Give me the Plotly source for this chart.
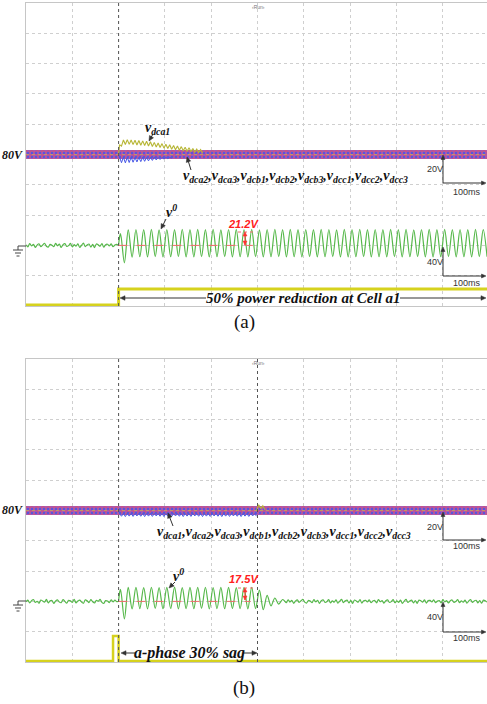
import math
import numpy as np
import plotly.graph_objects as go

W, H = 487, 704
SERIF = "Liberation Serif, Times New Roman, serif"
SANS = "Liberation Sans, Arial, sans-serif"

# ---------------- data (read from the scope captures) ----------------
T60 = 1000.0 / 60.0      # ms, output voltage period
T120 = 1000.0 / 120.0    # ms, dc-link ripple period

# output voltage v0 [V] -- panel (a)
a_noise_pre = [0.8, -1.9, 2.4, -0.7, 1.5, -2.6, 0.4, 2.2, -1.5, 0.6, 2.8, -1.1, -2.3, 1.3, 0.3, -1.8,
               2.6, -0.5, 1.6, -2.8, 1.1, 2.3, -1.3, -0.3, 2.7, -2.0, 0.9, -1.0, 2.0, -2.7, 0.2, 2.9,
               -1.6, 0.6, 1.8, -2.2, 1.4, -2.9, 1.9, 0.7, -1.1, 2.4, -2.4, 1.0, 1.5, -0.7, 2.2, -1.8,
               0.5, 1.3, 0.4]
a_v0_peaks = [15.5, 20.5, 21.0, 20.8, 21.2, 20.6, 21.0, 20.9, 21.3, 20.7, 21.1, 20.8, 21.2, 20.5, 21.0, 21.2,
              20.8, 21.1, 20.6, 21.0, 21.3, 20.9, 21.2, 20.7, 21.0, 20.8, 21.2, 21.0, 20.6, 21.1, 20.9, 21.3,
              20.8, 21.0, 20.7, 21.2, 20.9, 21.1, 20.6, 21.0, 21.2, 20.8, 21.1, 20.9, 21.0, 20.7, 21.2, 20.9]
a_v0_troughs = [-23.0, -15.5, -15.0, -15.3, -14.8, -15.2, -15.0, -14.7, -15.3, -15.1, -14.9, -15.2, -15.0, -14.8,
                -15.3, -15.0, -15.1, -14.9, -15.2, -15.0, -14.8, -15.3, -15.0, -15.1, -14.9, -15.2, -15.0,
                -14.8, -15.2, -15.1, -15.0, -14.9, -15.3, -15.0, -15.1, -14.8, -15.2, -15.0, -14.9, -15.1,
                -15.2, -15.0, -14.8, -15.1, -15.0, -15.2, -14.9, -15.0]

# dc-link voltages [V] -- panel (a)
band_t = [-200, 800]
a_band_top = [83.0, 83.0]
a_band_bot = [77.0, 77.0]
a_dca1_peaks = [86.5, 89.6, 89.8, 89.6, 89.4, 89.2, 89.0, 88.7, 88.4, 88.0, 87.6, 87.2, 86.8, 86.4, 86.0,
                85.6, 85.2, 84.8, 84.4, 84.0, 83.6, 83.2]
a_dca1_troughs = [85.5, 86.6, 86.7, 86.5, 86.3, 86.1, 85.9, 85.6, 85.3, 84.9, 84.6, 84.2, 83.9, 83.5, 83.2,
                  82.8, 82.5, 82.2, 81.9, 81.6, 81.3, 81.0]
a_blue_troughs = [74.6, 74.5, 74.7, 74.9, 75.1, 75.3, 75.5, 75.8, 76.1, 76.4, 76.7, 77.0, 77.3, 77.6]
a_blue_peaks = [78.0, 78.2, 78.1, 78.2, 78.0, 78.1, 78.2, 78.0, 78.1, 78.2, 78.0, 78.1, 78.2, 78.1]

# auxiliary (yellow) channel, in divisions -- panel (a)
a_yel_t = [-200, 0, 0, 800]
a_yel_v = [0.03, 0.03, 0.56, 0.56]

# output voltage v0 [V] -- panel (b)
b_noise_pre = [-0.6, 1.7, -2.1, 0.9, 2.5, -1.4, 0.2, -2.4, 1.8, 0.5, -1.0, 2.7, -1.9, 0.8, 1.2, -2.6,
               0.6, 2.1, -0.9, -1.7, 2.4, 0.1, -2.2, 1.5, 0.7, -1.3, 2.8, -2.0, 0.4, 1.6, -0.8, -2.5,
               2.0, 0.9, -1.6, 2.3, -0.4, -2.1, 1.4, 0.3, 2.6, -1.2, -2.7, 1.1, 0.6, -1.5, 2.2, -0.7,
               1.7, -0.2, 0.5]
b_v0_peaks = [16.0, 18.4, 18.6, 18.2, 18.7, 18.3, 18.5, 18.8, 18.2, 18.6, 18.4, 18.7, 18.3, 18.5, 18.6,
              18.2, 18.5, 18.4]
b_v0_troughs = [-23.0, -10.0, -9.5, -9.8, -9.3, -9.7, -9.4, -9.9, -9.5, -9.6, -9.2, -9.8, -9.5, -9.7, -9.4,
                -9.6, -9.8, -9.5]
b_v0_decay = [15.0, -11.0, 8.0, -6.0, 4.5, -3.5, 2.5]
b_noise_post = [0.7, -1.8, 2.2, -0.9, 1.4, -2.5, 0.5, 2.0, -1.3, 0.8, 2.6, -1.0, -2.2, 1.2, 0.4, -1.7,
                2.4, -0.6, 1.5, -2.6, 1.0, 2.1, -1.2, -0.4, 2.5, -1.9, 0.8, -1.1, 1.9, -2.4, 0.3, 2.7,
                -1.5, 0.7, 1.7, -2.1, 1.3, -2.7, 1.8, 0.6, -1.0, 2.3, -2.3, 0.9, 1.4, -0.8, 2.1, -1.7,
                0.6, 1.2, -2.0, 2.5, -0.5, 1.1, -2.2, 0.9, 2.0, -1.4, -0.3, 2.4, -1.8, 0.7, -1.2, 1.8,
                -2.5, 0.4, 2.6, -1.4, 0.5, 1.6, -2.0, 1.2, -2.6, 1.7, 0.8, -0.9, 2.2, -2.2, 1.0, 1.3,
                -0.7, 2.0, -1.6, 0.4, 1.1, -1.9, 2.3, -0.6, 1.0, -2.1, 0.8, 1.9, -1.3, -0.2, 2.3, -1.7,
                0.6, -1.0, 1.7, -2.3, 0.5, 2.4, -1.3, 0.6, 1.5, -1.9, 1.1, -2.4, 1.6, 0.7, -0.8, 2.1]

# dc-link voltages [V] -- panel (b)
b_band_top = [83.0, 83.0]
b_band_bot = [77.0, 77.0]
b_blue_troughs = [76.2, 76.0, 76.3, 76.1, 76.4, 76.2, 76.0, 76.3, 76.1, 76.4, 76.2, 76.0, 76.3, 76.1,
                  76.4, 76.2, 76.0, 76.3, 76.1, 76.4, 76.2, 76.0, 76.3, 76.1, 76.4, 76.2, 76.0, 76.3,
                  76.1, 76.4, 76.2, 76.0, 76.3, 76.1, 76.4, 76.2]
b_olive_bump = [80.0, 83.8, 81.5, 83.2, 80.5]

# auxiliary (yellow) channel, in divisions -- panel (b)
b_yel_t = [-200, -12, -12, 0, 0, 800]
b_yel_v = [0.03, 0.03, 0.86, 0.86, 0.03, 0.03]

# channel scales
DC_REF, DC_PER_DIV, DC_DIV = 80.0, 20.0, 5.0
V0_PER_DIV, V0_DIV = 40.0, 2.0


def dc_div(v):
    return [DC_DIV + (x - DC_REF) / DC_PER_DIV for x in v]


def v0_div(v):
    return [V0_DIV + x / V0_PER_DIV for x in v]


def zigzag(t0, half, first, second, start=None):
    """alternate first/second extrema every half period, starting a quarter period after t0"""
    xs, ys = [], []
    if start is not None:
        xs.append(t0)
        ys.append(start)
    k = 0
    for p, q in zip(first, second):
        xs.append(t0 + half / 2 + 2 * k * half)
        ys.append(p)
        xs.append(t0 + half / 2 + (2 * k + 1) * half)
        ys.append(q)
        k += 1
    return xs, ys


def noise(t0, t1, vals):
    return list(np.linspace(t0, t1, len(vals))), list(vals)


GREEN = "#56b84a"
YELLOW = "#d6d21e"
OLIVE = "#b7b636"
BLUE = "#4656e6"

fig = go.Figure()


def add_band(xa, ya, top, bot):
    fig.add_trace(go.Scatter(x=band_t, y=dc_div(bot), mode="lines", line=dict(width=0),
                             xaxis=xa, yaxis=ya, hoverinfo="skip", showlegend=False))
    fig.add_trace(go.Scatter(x=band_t, y=dc_div(top), mode="lines", line=dict(width=0),
                             fill="tonexty", fillcolor="#a95ab6",
                             fillpattern=dict(shape="x", fgcolor="#ee4c4c", bgcolor="#a95ab6",
                                              size=4, solidity=0.5),
                             xaxis=xa, yaxis=ya, hoverinfo="skip", showlegend=False))
    fig.add_trace(go.Scatter(x=band_t, y=dc_div(bot), mode="lines", line=dict(width=0),
                             xaxis=xa, yaxis=ya, hoverinfo="skip", showlegend=False))
    fig.add_trace(go.Scatter(x=band_t, y=dc_div(top), mode="lines", line=dict(width=0),
                             fill="tonexty", fillcolor="rgba(0,0,0,0)",
                             fillpattern=dict(shape=".", fgcolor=BLUE, bgcolor="rgba(0,0,0,0)",
                                              size=4, solidity=0.3, fgopacity=0.85),
                             xaxis=xa, yaxis=ya, hoverinfo="skip", showlegend=False))
    fig.add_trace(go.Scatter(x=band_t, y=dc_div([DC_REF, DC_REF]), mode="lines",
                             line=dict(width=1, color="rgba(200,195,70,0.6)", dash="dot"),
                             xaxis=xa, yaxis=ya, hoverinfo="skip", showlegend=False))


# ---- panel (a)
add_band("x", "y", a_band_top, a_band_bot)
bx, by = zigzag(0, T120 / 2, a_blue_peaks, a_blue_troughs, start=80.0)
fig.add_trace(go.Scatter(x=bx, y=dc_div(by), mode="lines", line=dict(color=BLUE, width=1),
                         xaxis="x", yaxis="y", showlegend=False, hoverinfo="skip"))
ox, oy = zigzag(0, T120 / 2, a_dca1_peaks, a_dca1_troughs, start=80.0)
fig.add_trace(go.Scatter(x=ox, y=dc_div(oy), mode="lines", line=dict(color=OLIVE, width=1.1),
                         xaxis="x", yaxis="y", showlegend=False, hoverinfo="skip"))
nx, ny = noise(-200, 0, a_noise_pre)
sx, sy = zigzag(0, T60 / 2, a_v0_peaks, a_v0_troughs, start=1.0)
fig.add_trace(go.Scatter(x=nx + sx, y=v0_div(ny + sy), mode="lines",
                         line=dict(color=GREEN, width=1.2, shape="spline", smoothing=0.9),
                         xaxis="x", yaxis="y", showlegend=False, hoverinfo="skip"))
fig.add_trace(go.Scatter(x=a_yel_t, y=a_yel_v, mode="lines", line=dict(color=YELLOW, width=3),
                         xaxis="x", yaxis="y", showlegend=False, hoverinfo="skip"))

# ---- panel (b)
add_band("x2", "y2", b_band_top, b_band_bot)
bx, by = zigzag(0, T120 / 2, [78.0] * len(b_blue_troughs), b_blue_troughs, start=80.0)
fig.add_trace(go.Scatter(x=bx, y=dc_div(by), mode="lines", line=dict(color=BLUE, width=1),
                         xaxis="x2", yaxis="y2", showlegend=False, hoverinfo="skip"))
fig.add_trace(go.Scatter(x=list(np.linspace(298, 316, len(b_olive_bump))), y=dc_div(b_olive_bump),
                         mode="lines", line=dict(color=OLIVE, width=1.1),
                         xaxis="x2", yaxis="y2", showlegend=False, hoverinfo="skip"))
nx, ny = noise(-200, 0, b_noise_pre)
sx, sy = zigzag(0, T60 / 2, b_v0_peaks, b_v0_troughs, start=1.0)
t_end = sx[-1]
dx = [t_end + (i + 1) * T60 / 2 for i in range(len(b_v0_decay))]
px_, py_ = noise(dx[-1] + 4, 800, b_noise_post)
fig.add_trace(go.Scatter(x=nx + sx + dx + px_, y=v0_div(ny + sy + b_v0_decay + py_), mode="lines",
                         line=dict(color=GREEN, width=1.2, shape="spline", smoothing=0.9),
                         xaxis="x2", yaxis="y2", showlegend=False, hoverinfo="skip"))
fig.add_trace(go.Scatter(x=b_yel_t, y=b_yel_v, mode="lines", line=dict(color=YELLOW, width=2.5),
                         xaxis="x2", yaxis="y2", showlegend=False, hoverinfo="skip"))

# ---------------- layout ----------------
XL, XR = 26.0, 487.0
DIVPX = 46.3
x_range = [-200, -200 + (XR - XL) / DIVPX * 100]


def ydom(top, bot):
    return [1 - bot / H, 1 - top / H]


axcommon = dict(showgrid=True, gridcolor="#cfcfcf", griddash="dot", gridwidth=1,
                showticklabels=False, ticks="", zeroline=False, showline=True,
                linecolor="#c6c6c6", linewidth=1, fixedrange=True)

fig.update_layout(
    width=W, height=H, margin=dict(l=0, r=0, t=0, b=0, pad=0),
    paper_bgcolor="white", plot_bgcolor="white", showlegend=False,
    xaxis=dict(domain=[XL / W, 1], range=x_range, dtick=100, tick0=0, anchor="y", mirror=True, **axcommon),
    yaxis=dict(domain=ydom(3, 306), range=[0, 10], dtick=1, anchor="x", mirror=False, **axcommon),
    xaxis2=dict(domain=[XL / W, 1], range=x_range, dtick=100, tick0=0, anchor="y2", mirror=True, **axcommon),
    yaxis2=dict(domain=ydom(359, 662), range=[0, 10], dtick=1, anchor="x2", mirror=False, **axcommon),
)

shapes = []
# trigger / event markers
for xr, yr in (("x", "y"), ("x2", "y2")):
    shapes.append(dict(type="line", xref=xr, yref=yr, x0=0, x1=0, y0=0, y1=10,
                       line=dict(color="#555", width=1, dash="dot")))
shapes.append(dict(type="line", xref="x2", yref="y2", x0=300, x1=300, y0=0, y1=10,
                   line=dict(color="#555", width=1, dash="dot")))
# red reference (ground) dashed lines
shapes.append(dict(type="line", xref="x", yref="y", x0=0, x1=290, y0=2, y1=2,
                   line=dict(color="#f06a6a", width=1, dash="dash")))
shapes.append(dict(type="line", xref="x2", yref="y2", x0=0, x1=285, y0=2, y1=2,
                   line=dict(color="#f06a6a", width=1, dash="dash")))


def PX(x):
    return x / W


def PY(y):
    return 1 - y / H


def pline(x0, y0, x1, y1, color="#444", width=1, dash="solid"):
    return dict(type="line", xref="paper", yref="paper", x0=PX(x0), x1=PX(x1),
                y0=PY(y0), y1=PY(y1), line=dict(color=color, width=width, dash=dash))


def head(hx, hy, ux, uy, color, length=5.0, half=2.3):
    bx_, by_ = hx - ux * length, hy - uy * length
    nx_, ny_ = -uy, ux
    p1 = (bx_ + nx_ * half, by_ + ny_ * half)
    p2 = (bx_ - nx_ * half, by_ - ny_ * half)
    path = "M %f,%f L %f,%f L %f,%f Z" % (PX(hx), PY(hy), PX(p1[0]), PY(p1[1]), PX(p2[0]), PY(p2[1]))
    return dict(type="path", xref="paper", yref="paper", path=path,
                fillcolor=color, line=dict(color=color, width=0.5))


def arrow(hx, hy, tx, ty, color="#333", both=False, length=5.0, half=2.3):
    d = math.hypot(hx - tx, hy - ty)
    ux, uy = (hx - tx) / d, (hy - ty) / d
    shapes.append(pline(tx, ty, hx - ux * 2, hy - uy * 2, color=color))
    shapes.append(head(hx, hy, ux, uy, color, length, half))
    if both:
        shapes.append(head(tx, ty, -ux, -uy, color, length, half))


# ground symbols
for gy in (246, 601):
    shapes.extend([pline(18, gy, 26, gy), pline(18, gy, 18, gy + 4),
                   pline(13, gy + 4, 23, gy + 4), pline(15, gy + 7, 21, gy + 7),
                   pline(16.5, gy + 10, 19.5, gy + 10)])
# red marker dots at the peak level
shapes.append(pline(238, 232, 253, 232, color="#f06a6a", dash="dot"))
shapes.append(pline(238, 588, 253, 588, color="#f06a6a", dash="dot"))

# arrows (a)
arrow(149, 141, 153, 134)
arrow(187, 157, 191, 170)
arrow(161, 229, 166, 219)
arrow(245, 232, 245, 245, color="#ff3030", both=True, length=4, half=2)
arrow(120, 298, 206, 298)
arrow(486, 298, 400, 298)
for yt, yb in ((155, 183), (247, 276)):
    arrow(443, yt, 443, yb, length=4.5, half=2)
    arrow(486, yb, 443, yb, length=4.5, half=2)
# arrows (b)
arrow(168, 513, 173, 526)
arrow(169, 588, 175, 582)
arrow(245, 588, 245, 600, color="#ff3030", both=True, length=4, half=2)
arrow(121, 653, 136, 653)
arrow(257, 653, 243, 653)
for yt, yb in ((512, 540), (602, 632)):
    arrow(443, yt, 443, yb, length=4.5, half=2)
    arrow(486, yb, 443, yb, length=4.5, half=2)

fig.update_layout(shapes=shapes)

ann = []


def txt(x, y, s, size, color="#111", family=SERIF, xanchor="center"):
    ann.append(dict(x=PX(x), y=PY(y), xref="paper", yref="paper", text=s, showarrow=False,
                    font=dict(size=size, color=color, family=family), xanchor=xanchor, yanchor="middle"))


def v(sub):
    return "v<sub>%s</sub>" % sub


# panel (a) texts
txt(25, 155, "<b><i>80V</i></b>", 12, xanchor="right")
txt(258, 7, "‹Run›", 5, color="#777", family=SANS)
txt(157, 128, "<b><i>%s</i></b>" % v("dca1"), 14)
txt(295, 176, "<b><i>" + ",".join(v(s) for s in ["dca2", "dca3", "dcb1", "dcb2", "dcb3",
                                                  "dcc1", "dcc2", "dcc3"]) + "</i></b>", 14)
txt(171, 211, "<b><i>v<sup>0</sup></i></b>", 14)
txt(243, 224, "<b><i>21.2V</i></b>", 11, color="#ff2020", family=SANS)
txt(303, 298, "<b><i>50% power reduction at Cell a1</i></b>", 15)
txt(435, 169, "20V", 9, color="#333", family=SANS)
txt(467, 192, "100ms", 9, color="#333", family=SANS)
txt(435, 262, "40V", 9, color="#333", family=SANS)
txt(467, 283, "100ms", 9, color="#333", family=SANS)
txt(244, 322, "(a)", 19, color="#111")

# panel (b) texts
txt(25, 510, "<b><i>80V</i></b>", 12, xanchor="right")
txt(258, 363, "‹Run›", 5, color="#777", family=SANS)
txt(284, 532, "<b><i>" + ",".join(v(s) for s in ["dca1", "dca2", "dca3", "dcb1", "dcb2", "dcb3",
                                                  "dcc1", "dcc2", "dcc3"]) + "</i></b>", 14)
txt(178, 575, "<b><i>v<sup>0</sup></i></b>", 14)
txt(244, 579, "<b><i>17.5V</i></b>", 11, color="#ff2020", family=SANS)
txt(189, 653, "<b><i>a-phase 30% sag</i></b>", 16)
txt(435, 527, "20V", 9, color="#333", family=SANS)
txt(467, 546, "100ms", 9, color="#333", family=SANS)
txt(435, 617, "40V", 9, color="#333", family=SANS)
txt(467, 638, "100ms", 9, color="#333", family=SANS)
txt(244, 688, "(b)", 19, color="#111")

fig.update_layout(annotations=ann)
fig.write_html("out.html", config={"displayModeBar": False},
               post_script="document.body.style.margin='0px';document.body.style.overflow='hidden';")
